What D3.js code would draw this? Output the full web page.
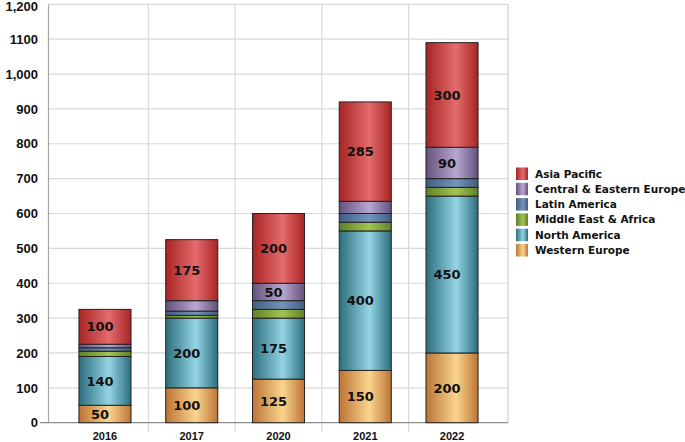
<!DOCTYPE html>
<html><head><meta charset="utf-8">
<script src="https://cdn.jsdelivr.net/npm/d3@7"></script>
<style>
html,body{margin:0;padding:0;background:#fff;}
svg{display:block;font-family:"DejaVu Sans",Verdana,sans-serif;}
</style></head>
<body>
<svg id="chart" width="685" height="442"></svg>
<script>
const categories = ["2016","2017","2020","2021","2022"];
const seriesNames = ["Western Europe","North America","Middle East & Africa","Latin America","Central & Eastern Europe","Asia Pacific"];
const westernEurope = [50,100,125,150,200];
const northAmerica = [140,200,175,400,450];
const middleEastAfrica = [15,8,25,25,25];
const latinAmerica = [10,12,25,25,25];
const centralEasternEurope = [10,30,50,35,90];
const asiaPacific = [100,175,200,285,300];
const yTicks = [0,100,200,300,400,500,600,700,800,900,1000,1100,1200];
const yTickLabels = ["0","100","200","300","400","500","600","700","800","900","1,000","1100","1,200"];
const labelled = {"Western Europe":[true,true,true,true,true],"North America":[true,true,true,true,true],"Central & Eastern Europe":[false,false,true,false,true],"Asia Pacific":[true,true,true,true,true]};

const seriesValues = [westernEurope,northAmerica,middleEastAfrica,latinAmerica,centralEasternEurope,asiaPacific];
const colors = {
  "Western Europe":["#bd7434","#f9d58e"],
  "North America":["#2c6e7e","#94d4e4"],
  "Middle East & Africa":["#5f8128","#a2c454"],
  "Latin America":["#425c80","#7496bc"],
  "Central & Eastern Europe":["#64507c","#b8a8d0"],
  "Asia Pacific":["#a82424","#e46c6c"]
};

const svg = d3.select("#chart");
const plotL = 48, plotR = 508, plotT = 4.3, plotB = 422.7;
const y = d3.scaleLinear().domain([0,1200]).range([plotB, plotT]);
const x = d3.scaleBand().domain(categories).range([61.6, 495.4]).padding(0);
const barW = x.bandwidth()*0.6;

const defs = svg.append("defs");
seriesNames.forEach((s,i)=>{
  const g = defs.append("linearGradient").attr("id","g"+i).attr("x1","0%").attr("x2","100%").attr("y1","0%").attr("y2","0%");
  g.append("stop").attr("offset","0%").attr("stop-color",colors[s][0]);
  g.append("stop").attr("offset","58%").attr("stop-color",colors[s][1]);
  g.append("stop").attr("offset","100%").attr("stop-color",colors[s][0]);
});

// horizontal grid
svg.append("g").selectAll("line").data(yTicks.filter(d=>d>0)).join("line")
  .attr("x1",plotL).attr("x2",plotR).attr("y1",d=>y(d)).attr("y2",d=>y(d))
  .attr("stroke","#d9d9d9").attr("stroke-width",1.2);
// vertical grid at band boundaries
const bounds = categories.slice(1).map(c=>x(c));
svg.append("g").selectAll("line").data(bounds).join("line")
  .attr("x1",d=>d).attr("x2",d=>d).attr("y1",plotT).attr("y2",432)
  .attr("stroke","#d9d9d9").attr("stroke-width",1.2);
// right border
svg.append("line").attr("x1",plotR).attr("x2",plotR).attr("y1",plotT).attr("y2",plotB).attr("stroke","#cfcfcf").attr("stroke-width",1.2);

// y axis
const yAxis = d3.axisLeft(y).tickValues(yTicks).tickFormat((d,i)=>yTickLabels[i]).tickSize(0).tickPadding(10);
const ya = svg.append("g").attr("transform",`translate(${plotL},0)`).call(yAxis);
ya.select(".domain").attr("stroke","#a6a6a6").attr("stroke-width",1.2);
ya.selectAll("text").attr("font-size","13px").attr("font-weight","bold").attr("fill","#111");
// keep wide / top labels inside the picture
ya.selectAll("text").each(function(d){
  const bb = this.getBBox();
  const left = plotL - 10 - bb.width;
  if (left < 1) {
    d3.select(this).attr("textLength", plotL - 11).attr("lengthAdjust","spacingAndGlyphs");
  }
  if (y(d) + bb.y < 1) {
    d3.select(this).attr("dy", (parseFloat(d3.select(this).attr("dy")) || 0.32) + "em").attr("y", 2);
  }
});

// x axis
const xAxis = d3.axisBottom(x).tickSize(0).tickPadding(10);
const xa = svg.append("g").attr("transform",`translate(0,${plotB})`).call(xAxis);
xa.select(".domain").remove();
xa.selectAll("text").attr("font-size","11px").attr("font-weight","bold").attr("fill","#111");
svg.append("line").attr("x1",40).attr("x2",plotR).attr("y1",plotB).attr("y2",plotB).attr("stroke","#8c8c8c").attr("stroke-width",1.2);

// stacked data
const table = categories.map((c,ci)=>{
  const o = {cat:c};
  seriesNames.forEach((s,si)=>o[s]=seriesValues[si][ci]);
  return o;
});
const stack = d3.stack().keys(seriesNames)(table);

const bars = svg.append("g");
stack.forEach((layer,si)=>{
  bars.append("g").selectAll("rect").data(layer).join("rect")
    .attr("x",d=>x(d.data.cat)+(x.bandwidth()-barW)/2)
    .attr("width",barW)
    .attr("y",d=>y(d[1]))
    .attr("height",d=>y(d[0])-y(d[1]))
    .attr("fill",`url(#g${si})`)
    .attr("stroke","#222").attr("stroke-width",1);
});

// labels
const lab = svg.append("g");
stack.forEach((layer,si)=>{
  const s = seriesNames[si];
  if(!labelled[s]) return;
  lab.append("g").selectAll("text").data(layer.filter((d,i)=>labelled[s][i])).join("text")
    .attr("x",d=>x(d.data.cat)+x.bandwidth()/2-5)
    .attr("y",d=>(y(d[0])+y(d[1]))/2)
    .attr("dy","0.36em")
    .attr("text-anchor","middle")
    .attr("font-size","13px").attr("font-weight","bold").attr("fill","#111")
    .text(d=>d.data[s]);
});

// legend
const legendOrder = seriesNames.slice().reverse();
const lg = svg.append("g").attr("transform","translate(516,167.5)");
legendOrder.forEach((s,i)=>{
  const si = seriesNames.indexOf(s);
  const row = lg.append("g").attr("transform",`translate(0,${i*15.3})`);
  row.append("rect").attr("width",12).attr("height",12.5).attr("fill",`url(#g${si})`);
  row.append("text").attr("x",19).attr("y",10).attr("font-size","10.5px").attr("font-weight","bold").attr("fill","#111").text(s);
});
</script>
</body></html>
